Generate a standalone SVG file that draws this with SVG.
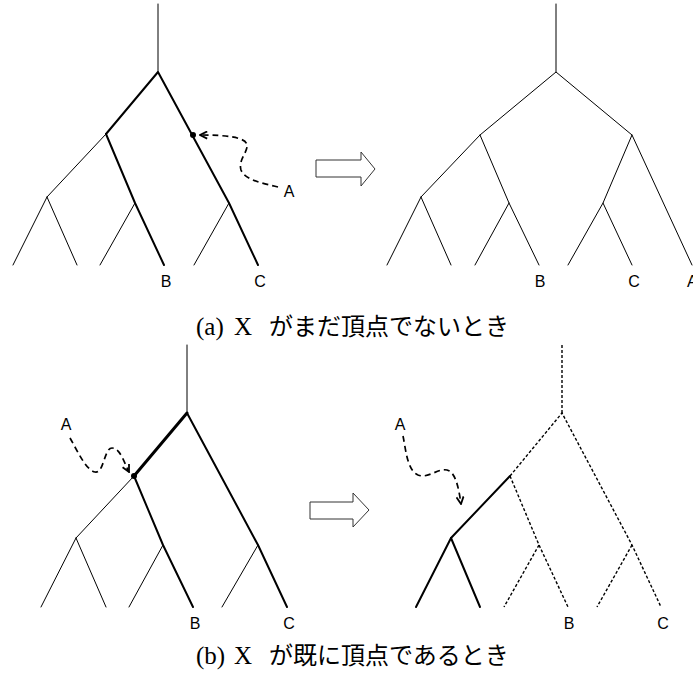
<svg xmlns="http://www.w3.org/2000/svg" width="693" height="687" viewBox="0 0 693 687">
<style>
.thin{stroke:#000;stroke-width:1;fill:none;stroke-linecap:round;stroke-linejoin:round}
.thick{stroke:#000;stroke-width:2;fill:none;stroke-linecap:round;stroke-linejoin:round}
.xthick{stroke:#000;stroke-width:3;fill:none;stroke-linecap:round}
.dot{stroke:#000;stroke-width:1.4;fill:none;stroke-dasharray:3,2}
.dash{stroke:#000;stroke-width:1.7;fill:none;stroke-dasharray:6,4;marker-end:url(#ah)}
.lbl{font-family:"Liberation Sans",Arial,sans-serif;font-size:16px;fill:#000;text-anchor:middle}
.hollow{fill:#fff;stroke:#333;stroke-width:1}
.cap{font-size:24px;fill:#000}
.ser{font-family:"Liberation Serif","DejaVu Serif",serif;font-size:25px}
.jp{font-family:"Noto Sans CJK JP",sans-serif}
</style>
<defs>
<marker id="ah" viewBox="0 0 10 10" refX="9" refY="5" markerWidth="9" markerHeight="9" markerUnits="userSpaceOnUse" orient="auto">
<path d="M1,1 L9,5 L1,9" fill="none" stroke="#000" stroke-width="2"/>
</marker>
</defs>

<g id="tree-a-before">
<line class="thin" x1="158" y1="4" x2="158" y2="72"/>
<polyline class="thick" points="106,134 158,72 229,203 258,265"/>
<polyline class="thick" points="106,134 135,203 164,265"/>
<line class="thin" x1="106" y1="134" x2="47" y2="197"/>
<line class="thin" x1="47" y1="197" x2="13" y2="265"/>
<line class="thin" x1="47" y1="197" x2="77" y2="265"/>
<line class="thin" x1="135" y1="203" x2="100" y2="265"/>
<line class="thin" x1="229" y1="203" x2="194" y2="265"/>
<circle cx="193" cy="135" r="3" fill="#000"/>
<text class="lbl" x="166" y="287">B</text>
<text class="lbl" x="260" y="287">C</text>
<text class="lbl" x="289" y="197">A</text>
</g>

<g id="tree-a-after">
<line class="thin" x1="556" y1="4" x2="556" y2="72"/>
<polyline class="thin" points="421,197 480,135 556,72 632,135 692,265"/>
<polyline class="thin" points="480,135 509,203 539,265"/>
<line class="thin" x1="421" y1="197" x2="387" y2="265"/>
<line class="thin" x1="421" y1="197" x2="451" y2="265"/>
<line class="thin" x1="509" y1="203" x2="475" y2="265"/>
<polyline class="thin" points="632,135 603,203 632,265"/>
<line class="thin" x1="603" y1="203" x2="568" y2="265"/>
<text class="lbl" x="540" y="287">B</text>
<text class="lbl" x="634" y="287">C</text>
<text class="lbl" x="687" y="287" style="text-anchor:start">A</text>
</g>

<g id="tree-b-before">
<line class="thin" x1="187" y1="345" x2="187" y2="413"/>
<line class="xthick" x1="187" y1="413" x2="134" y2="476"/>
<polyline class="thick" points="187,413 258,545 287,607"/>
<polyline class="thick" points="134,476 163,545 193,607"/>
<line class="thin" x1="134" y1="476" x2="76" y2="538"/>
<line class="thin" x1="76" y1="538" x2="41" y2="607"/>
<line class="thin" x1="76" y1="538" x2="106" y2="607"/>
<line class="thin" x1="163" y1="545" x2="129" y2="607"/>
<line class="thin" x1="258" y1="545" x2="222" y2="607"/>
<circle cx="134" cy="476" r="3" fill="#000"/>
<text class="lbl" x="195" y="629">B</text>
<text class="lbl" x="289" y="629">C</text>
<text class="lbl" x="66" y="430">A</text>
</g>

<g id="tree-b-after">
<line class="dot" x1="562" y1="345" x2="562" y2="413"/>
<polyline class="dot" points="510,476 562,413 632,545 661,607"/>
<polyline class="dot" points="510,476 539,545 568,607"/>
<line class="dot" x1="539" y1="545" x2="504" y2="607"/>
<line class="dot" x1="632" y1="545" x2="597" y2="607"/>
<line class="thick" x1="510" y1="476" x2="451" y2="538"/>
<polyline class="thick" points="416,607 451,538 480,607"/>
<text class="lbl" x="569" y="629">B</text>
<text class="lbl" x="663" y="629">C</text>
<text class="lbl" x="400" y="430">A</text>
</g>

<g id="connectors">
<path class="dash" d="M278,187 C262,183 245,180 241,170 C238,160 248,152 247,145 C246,137 225,135 200,135"/>
<path class="dash" d="M70,438 C78,452 86,470 95,472 C104,474 104,448 112,448 C120,448 124,462 129,472"/>
<path class="dash" d="M403,436 C406,450 407,470 418,475 C428,479 438,468 447,470 C456,472 459,490 461,504"/>
<polygon class="hollow" points="316,160 361,160 361,152 375,169 361,186 361,177 316,177"/>
<polygon class="hollow" points="310,502 353,502 353,493 369,510 353,527 353,519 310,519"/>
</g>

<g id="captions">
<text class="cap" y="335"><tspan class="ser" x="196">(a)</tspan><tspan class="ser" x="234">X</tspan><tspan class="jp" x="269">がまだ頂点でないとき</tspan></text>
<text class="cap" y="664"><tspan class="ser" x="196">(b)</tspan><tspan class="ser" x="234">X</tspan><tspan class="jp" x="269">が既に頂点であるとき</tspan></text>
</g>
</svg>
